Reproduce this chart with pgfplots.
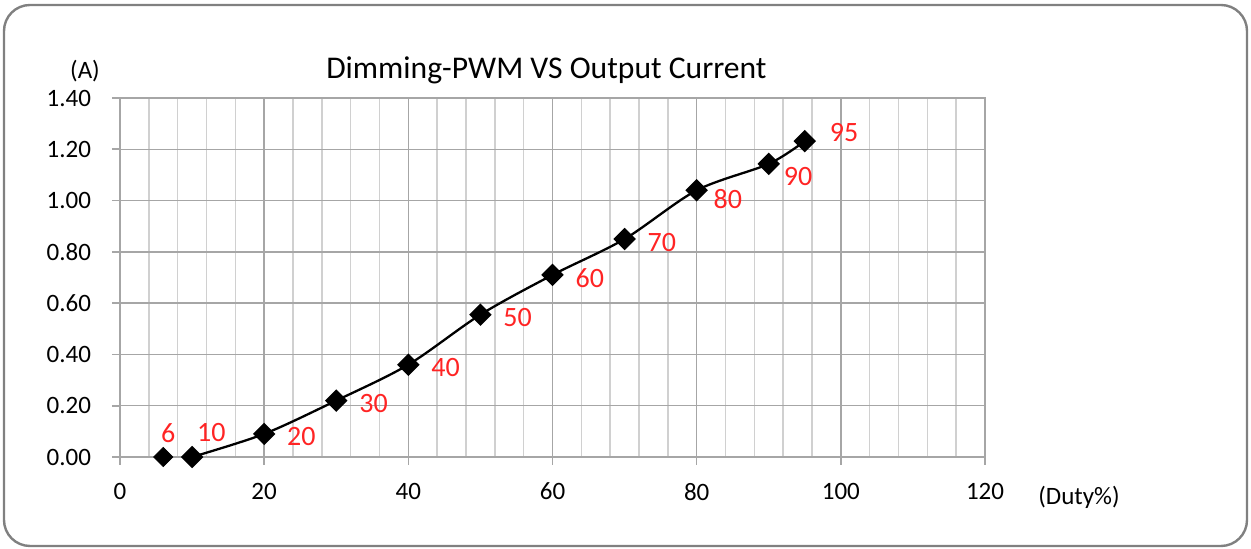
\documentclass[border=0pt]{standalone}
\usepackage{fontspec}
\setmainfont{Carlito}
\usepackage{pgfplots}
\pgfplotsset{compat=1.18}

\definecolor{majgrid}{HTML}{A6A6A6}
\definecolor{mingrid}{HTML}{D0D0D0}
\definecolor{lblred}{HTML}{FF2424}

\begin{document}
\begin{tikzpicture}
\useasboundingbox (-60pt,-46pt) rectangle (565.5pt,228.5pt);
\begin{axis}[
    scale only axis,
    width=432.5pt, height=179.5pt,
    xmin=0, xmax=120, ymin=0, ymax=1.4,
    xtick={0,20,...,120},
    ytick={0,0.2,...,1.4},
    minor x tick num=4,
    grid=both,
    major grid style={majgrid, line width=0.7pt},
    minor grid style={mingrid, line width=0.7pt},
    axis line style={majgrid, line width=0.8pt},
    tick style={majgrid, line width=0.8pt},
    tick align=outside,
    major tick length=4pt,
    minor tick length=0pt,
    xtick pos=bottom, ytick pos=left,
    /pgf/number format/assume math mode=true,
    yticklabel style={/pgf/number format/fixed, /pgf/number format/precision=2,
        /pgf/number format/fixed zerofill, font=\fontsize{12.5}{14}\selectfont, xshift=-7pt},
    xticklabel style={font=\fontsize{12.5}{14}\selectfont, yshift=-5.5pt},
    clip=false,
]
% line through 10..95
\addplot[black, line width=1.15pt, smooth, mark=square*, mark size=3.4pt,
    mark options={solid, fill=black, rotate=45}]
    coordinates {(10,0) (20,0.09) (30,0.22) (40,0.36) (50,0.555) (60,0.71)
                 (70,0.85) (80,1.04) (90,1.143) (95,1.232)};
% 6% point, no line
\addplot[only marks, mark=square*, mark size=3.4pt, mark options={fill=black, rotate=45}]
    coordinates {(6,0)};

% labels
\addplot[draw=none, point meta=explicit symbolic, nodes near coords,
    every node near coord/.style={anchor=west, xshift=8pt, yshift=-1.5pt,
        text=lblred, font=\fontsize{14}{16}\selectfont}]
    coordinates {(20,0.09)[20] (30,0.22)[30] (40,0.36)[40] (50,0.555)[50]
                 (60,0.71)[60] (70,0.85)[70]};
\addplot[draw=none, point meta=explicit symbolic, nodes near coords,
    every node near coord/.style={anchor=west, xshift=5pt, yshift=-4.5pt,
        text=lblred, font=\fontsize{14}{16}\selectfont}]
    coordinates {(80,1.04)[80]};
\addplot[draw=none, point meta=explicit symbolic, nodes near coords,
    every node near coord/.style={anchor=west, xshift=4pt, yshift=-6.5pt,
        text=lblred, font=\fontsize{14}{16}\selectfont}]
    coordinates {(90,1.143)[90]};
\addplot[draw=none, point meta=explicit symbolic, nodes near coords,
    every node near coord/.style={anchor=west, xshift=9pt, yshift=4.5pt,
        text=lblred, font=\fontsize{14}{16}\selectfont}]
    coordinates {(95,1.232)[95]};
\addplot[draw=none, point meta=explicit symbolic, nodes near coords,
    every node near coord/.style={anchor=center, xshift=2.5pt, yshift=12pt,
        text=lblred, font=\fontsize{14}{16}\selectfont}]
    coordinates {(6,0)[6]};
\addplot[draw=none, point meta=explicit symbolic, nodes near coords,
    every node near coord/.style={anchor=west, xshift=-1pt, yshift=12pt,
        text=lblred, font=\fontsize{14}{16}\selectfont}]
    coordinates {(10,0)[10]};

\node[font=\fontsize{15.8}{18}\selectfont] at ([yshift=14pt]rel axis cs:0.493,1)
    {Dimming-PWM VS Output Current};
\node[font=\fontsize{12.5}{14}\selectfont] at ([xshift=-17.5pt, yshift=13.5pt]rel axis cs:0,1) {(A)};
\node[font=\fontsize{12.5}{14}\selectfont] at ([xshift=47pt, yshift=-20pt]rel axis cs:1,0) {(Duty\%)};
\end{axis}
\draw[gray, line width=1.2pt, rounded corners=13pt] (-58pt,-44.5pt) rectangle (563.5pt,226pt);
\end{tikzpicture}
\end{document}
